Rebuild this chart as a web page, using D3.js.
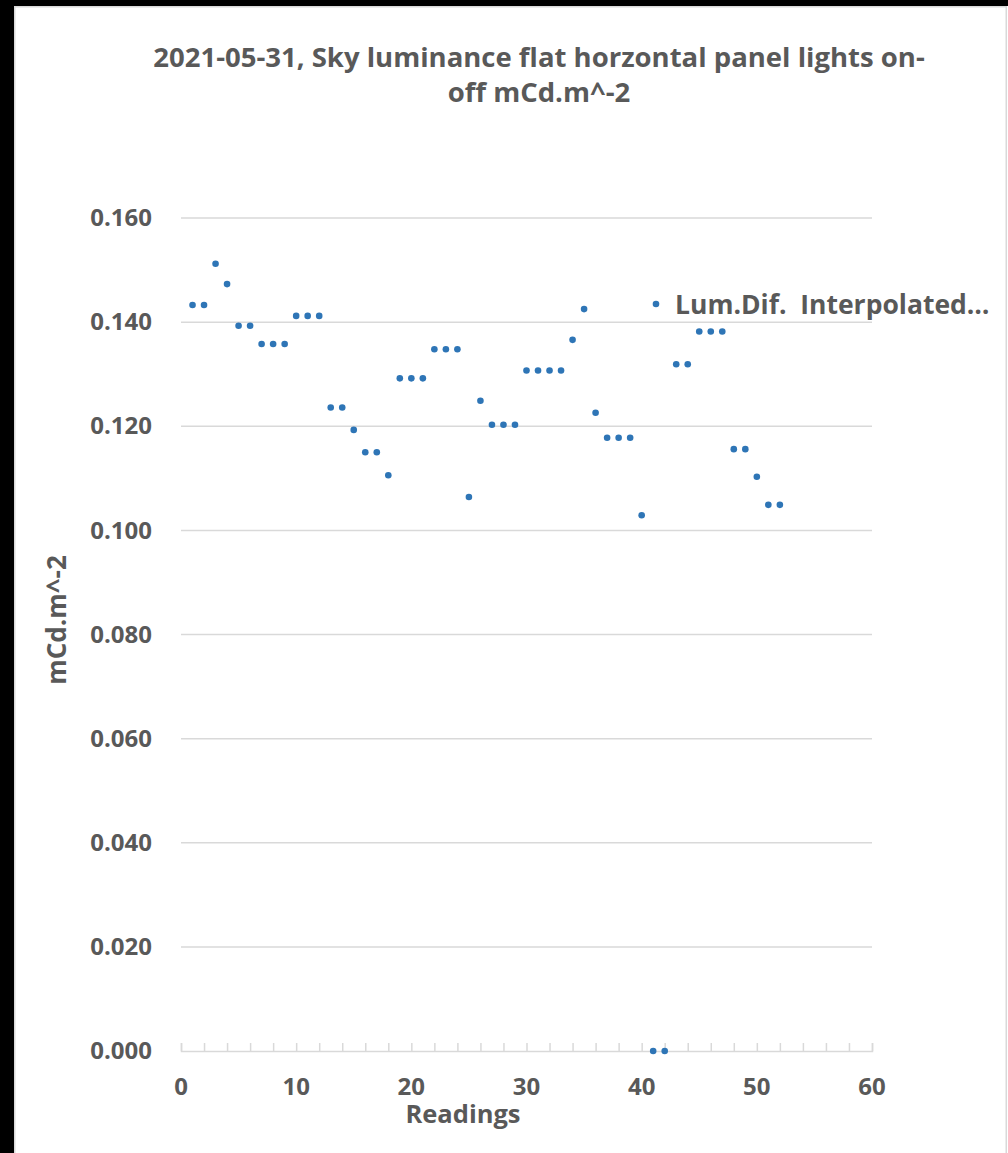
<!DOCTYPE html>
<html>
<head>
<meta charset="utf-8">
<script src="https://cdn.jsdelivr.net/npm/d3@7"></script>
<style>
  html, body { margin: 0; padding: 0; background: #fff; overflow: hidden; }
  svg { display: block; }
  text { font-family: "Open Sans", sans-serif; font-weight: bold; fill: #595959; }
</style>
</head>
<body>
<svg id="chart" width="1008" height="1153"></svg>
<script>
// readings 1..52
const readings = d3.range(1, 53);
const lumDif = [
  0.1433, 0.1433, 0.1512, 0.1473, 0.1393, 0.1393, 0.1358, 0.1358, 0.1358, 0.1412,
  0.1412, 0.1412, 0.1236, 0.1236, 0.1193, 0.1150, 0.1150, 0.1106, 0.1292, 0.1292,
  0.1292, 0.1348, 0.1348, 0.1348, 0.1064, 0.1249, 0.1203, 0.1203, 0.1203, 0.1307,
  0.1307, 0.1307, 0.1307, 0.1366, 0.1425, 0.1226, 0.1178, 0.1178, 0.1178, 0.1029,
  0.0000, 0.0000, 0.1319, 0.1319, 0.1382, 0.1382, 0.1382, 0.1156, 0.1156, 0.1103,
  0.1049, 0.1049
];
const yTicks = [0, 0.02, 0.04, 0.06, 0.08, 0.10, 0.12, 0.14, 0.16];
const xTicks = [0, 10, 20, 30, 40, 50, 60];
const titleLines = ["2021-05-31, Sky luminance flat horzontal panel lights on-", "off mCd.m^-2"];
const seriesName = "Lum.Dif.  Interpolated\u2026";

const svg = d3.select("#chart");
const W = 1008, H = 1153;
const plot = {left: 181, right: 872, top: 218, bottom: 1051};
const blue = "#2E75B6";
const grey = "#d9d9d9";

// frame: black strip on the left and top, thin grey edge
svg.append("rect").attr("width", W).attr("height", H).attr("fill", "#fff");
svg.append("rect").attr("width", 14).attr("height", H).attr("fill", "#000");
svg.append("rect").attr("width", W).attr("height", 6).attr("fill", "#000");
svg.append("path")
  .attr("d", `M14.75,${H} V6.75 H1006.25 V${H}`)
  .attr("fill", "none").attr("stroke", grey).attr("stroke-width", 1.5);

const x = d3.scaleLinear().domain([0, 60]).range([plot.left, plot.right]);
const y = d3.scaleLinear().domain([0, 0.16]).range([plot.bottom, plot.top]);

// title
svg.append("text")
  .attr("text-anchor", "middle")
  .style("font-size", "27.5px")
  .selectAll("tspan").data(titleLines).join("tspan")
  .attr("x", 539)
  .attr("y", (d, i) => 67 + i * 35)
  .text(d => d);

// gridlines
svg.append("g").selectAll("line").data(yTicks.filter(d => d > 0)).join("line")
  .attr("x1", plot.left).attr("x2", plot.right)
  .attr("y1", d => y(d)).attr("y2", d => y(d))
  .attr("stroke", grey).attr("stroke-width", 1.5);

// y axis labels
const yAxis = svg.append("g")
  .attr("transform", `translate(${plot.left},0)`)
  .call(d3.axisLeft(y).tickValues(yTicks).tickFormat(d3.format(".3f")).tickSize(0).tickPadding(29));
yAxis.select(".domain").remove();
yAxis.selectAll("text")
  .style("font-size", "24px").style("fill", "#595959")
  .style("font-family", "Open Sans").style("font-weight", "bold");

// x axis
const xAxis = svg.append("g")
  .attr("transform", `translate(0,${plot.bottom})`)
  .call(d3.axisTop(x).tickValues(d3.range(0, 61, 2)).tickSize(8).tickFormat(""));
xAxis.select(".domain").attr("stroke", grey).attr("stroke-width", 1.5);
xAxis.selectAll(".tick line").attr("stroke", grey).attr("stroke-width", 1.5);

svg.append("g").selectAll("text").data(xTicks).join("text")
  .attr("x", d => x(d)).attr("y", plot.bottom + 44)
  .attr("text-anchor", "middle")
  .style("font-size", "24px")
  .text(d => d);

// axis titles
svg.append("text")
  .attr("x", 463).attr("y", 1123)
  .attr("text-anchor", "middle")
  .style("font-size", "25.5px")
  .text("Readings");

svg.append("text")
  .attr("transform", "translate(66,620) rotate(-90)")
  .attr("text-anchor", "middle")
  .style("font-size", "26px")
  .text("mCd.m^-2");

// points
svg.append("g").selectAll("circle").data(readings).join("circle")
  .attr("cx", d => x(d))
  .attr("cy", (d, i) => y(lumDif[i]))
  .attr("r", 3.3)
  .attr("fill", blue);

// legend
const legend = svg.append("g").attr("transform", "translate(656,304)");
legend.append("circle").attr("r", 3.3).attr("fill", blue);
legend.append("text")
  .attr("x", 19).attr("y", 10)
  .attr("xml:space", "preserve")
  .style("white-space", "pre")
  .style("font-size", "26.5px")
  .text(seriesName);
</script>
</body>
</html>
